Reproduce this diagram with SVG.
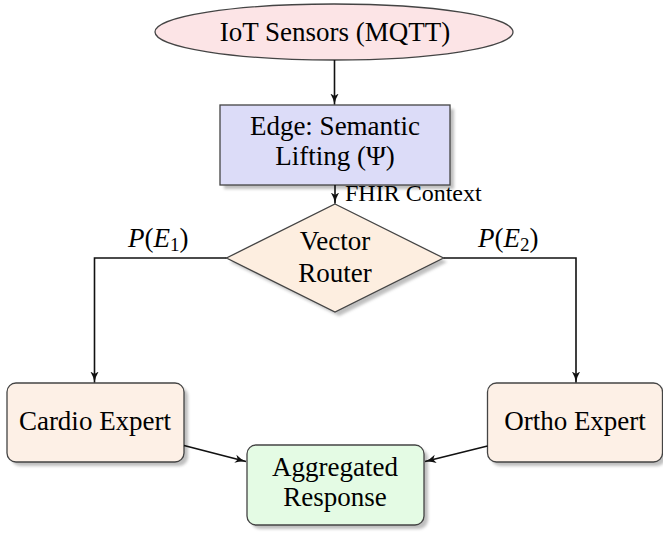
<svg xmlns="http://www.w3.org/2000/svg" width="663" height="533" viewBox="0 0 663 533">
<defs>
<style>
.t{font-family:"Liberation Serif","Times New Roman",serif;font-size:27px;fill:#000;text-anchor:middle}
.lbl{font-family:"Liberation Serif","Times New Roman",serif;font-size:24px;fill:#000}
.m{font-family:"Liberation Serif","Times New Roman",serif;font-size:27px;fill:#000}
.node{stroke:#444;stroke-width:1.3}
.shadow{fill:#8a8a8a;opacity:0.55;filter:url(#blur)}
.conn{fill:none;stroke:#111;stroke-width:1.6}
</style>
<filter id="blur" x="-10%" y="-10%" width="120%" height="130%"><feGaussianBlur stdDeviation="1.4"/></filter>
<marker id="arr" markerUnits="userSpaceOnUse" viewBox="0 0 12 10" refX="11" refY="5" markerWidth="12" markerHeight="10" orient="auto">
<path d="M0,0.8 Q5,4 11,5 Q5,6 0,9.2 L2.5,5 Z" fill="#111"/>
</marker>
</defs>

<g id="iot">
<ellipse cx="334" cy="32" rx="179" ry="28" class="node" fill="#fce4e6"/>
<text x="335" y="41" class="t">IoT Sensors (MQTT)</text>
</g>

<g id="edge">
<rect x="224" y="109" width="230" height="80" class="shadow"/>
<rect x="220" y="105" width="230" height="80" class="node" fill="#dcdcf8"/>
<text x="335" y="135" class="t">Edge: Semantic</text>
<text x="335" y="165" class="t">Lifting (Ψ)</text>
</g>

<g id="router">
<polygon points="339,208 447,262 339,316 230,262" class="shadow"/>
<polygon points="335,204 443.5,258 335,312 226.5,258" class="node" fill="#fdeee0"/>
<text x="335" y="250" class="t">Vector</text>
<text x="335" y="282" class="t">Router</text>
</g>

<g id="cardio">
<rect x="11" y="387" width="177" height="79" rx="9" class="shadow"/>
<rect x="7" y="383" width="177" height="79" rx="9" class="node" fill="#fdf0e6"/>
<text x="95" y="430" class="t">Cardio Expert</text>
</g>

<g id="ortho">
<rect x="491" y="387" width="175" height="79" rx="9" class="shadow"/>
<rect x="487.5" y="383" width="175" height="79" rx="9" class="node" fill="#fdf0e6"/>
<text x="575" y="430" class="t">Ortho Expert</text>
</g>

<g id="aggregated">
<rect x="251" y="449" width="177" height="80" rx="9" class="shadow"/>
<rect x="247" y="445" width="177" height="80" rx="9" class="node" fill="#e4fbe4"/>
<text x="335" y="476" class="t">Aggregated</text>
<text x="335" y="506" class="t">Response</text>
</g>

<g id="connectors">
<line x1="334.5" y1="60" x2="334.5" y2="104.5" class="conn" marker-end="url(#arr)"/>
<line x1="335" y1="185" x2="335" y2="203.5" class="conn" marker-end="url(#arr)"/>
<polyline points="226.5,258 94.5,258 94.5,382.5" class="conn" marker-end="url(#arr)"/>
<polyline points="443.5,258 576,258 576,382.5" class="conn" marker-end="url(#arr)"/>
<line x1="184" y1="445.5" x2="246" y2="461.5" class="conn" marker-end="url(#arr)"/>
<line x1="487.5" y1="446" x2="425" y2="461.5" class="conn" marker-end="url(#arr)"/>
</g>

<g id="labels">
<text x="345" y="201" class="lbl">FHIR Context</text>
<text x="128" y="247" class="m"><tspan font-style="italic">P</tspan>(<tspan font-style="italic">E</tspan><tspan font-size="19" dy="4">1</tspan><tspan dy="-4">)</tspan></text>
<text x="478" y="247" class="m"><tspan font-style="italic">P</tspan>(<tspan font-style="italic">E</tspan><tspan font-size="19" dy="4">2</tspan><tspan dy="-4">)</tspan></text>
</g>
</svg>
